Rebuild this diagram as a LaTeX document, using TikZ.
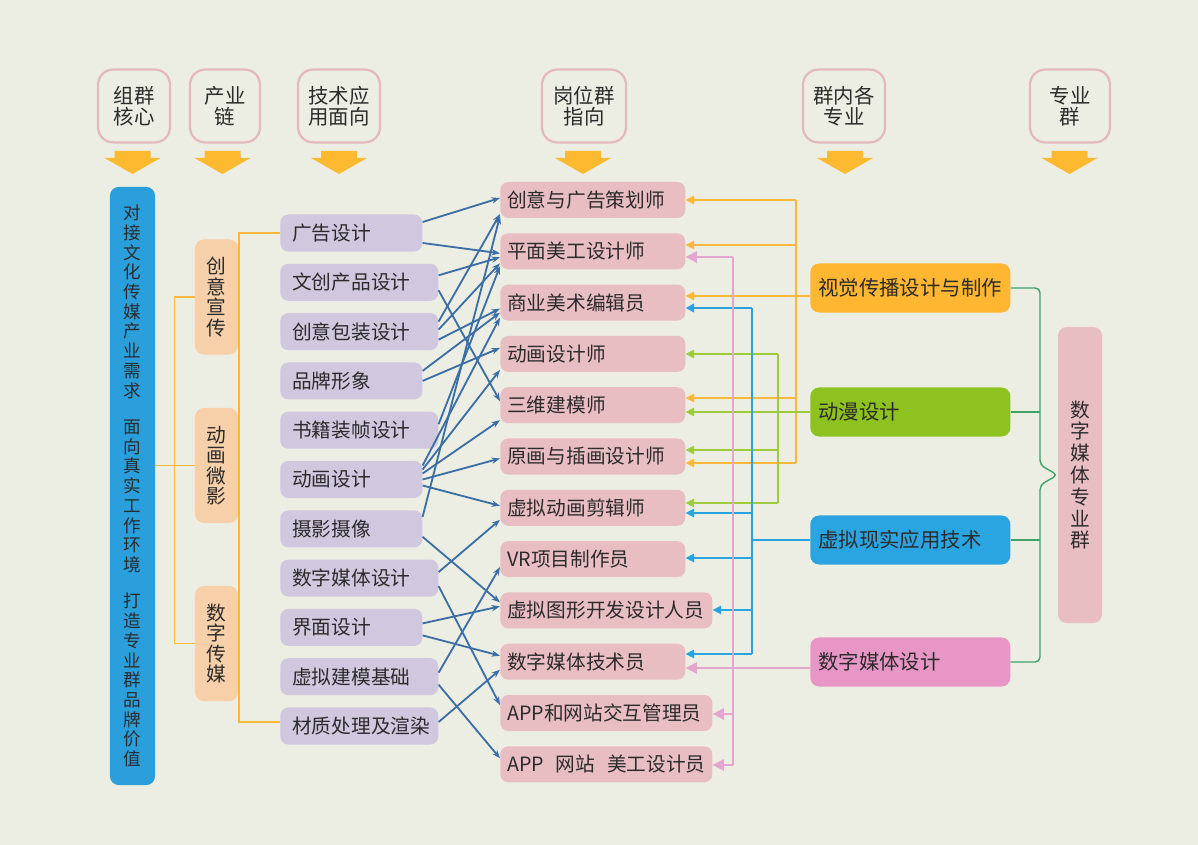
\documentclass[tikz,border=0pt]{standalone}
\usepackage{fontspec}
\setmainfont{Noto Sans CJK SC}
\usetikzlibrary{arrows.meta,calc}

\definecolor{bgc}{HTML}{EDEEE3}
\definecolor{hdrline}{HTML}{E3B9BC}
\definecolor{arrowc}{HTML}{FDB930}
\definecolor{coreblue}{HTML}{2A9FDB}
\definecolor{peach}{HTML}{F7CFA8}
\definecolor{lav}{HTML}{CFC8DF}
\definecolor{jobpink}{HTML}{E9BEC3}
\definecolor{visc}{HTML}{FFB630}
\definecolor{anic}{HTML}{8DC21F}
\definecolor{vrc}{HTML}{2BA5E1}
\definecolor{dmdc}{HTML}{E896C6}
\definecolor{linkc}{HTML}{3C6EA6}
\definecolor{bracec}{HTML}{3DA36B}
\definecolor{oline}{HTML}{FBB73A}
\definecolor{gline}{HTML}{9CCB3B}
\definecolor{bline}{HTML}{29A3E0}
\definecolor{pline}{HTML}{E4A6CF}
\definecolor{txt}{HTML}{2B2B2B}

\newcommand\boxfont{\fontsize{14}{16}\selectfont}

\tikzset{
  hdr/.style={draw=hdrline, line width=1.6pt, fill=bgc, rounded corners=0.38cm,
    minimum width=#1, minimum height=1.82cm, inner sep=0pt, align=center,
    text=txt, font=\fontsize{14.5}{15}\selectfont},
  skill/.style={anchor=west, fill=lav, rounded corners=0.2cm, text width=#1,
    inner xsep=0.3cm, inner ysep=0pt, minimum height=0.925cm, align=left,
    text=txt, font=\boxfont},
  job/.style={anchor=west, fill=jobpink, rounded corners=0.2cm, text width=#1,
    inner xsep=0.175cm, inner ysep=0pt, minimum height=0.9cm, align=left,
    text=txt, font=\boxfont},
  major/.style={anchor=west, fill=#1, rounded corners=0.22cm, text width=4.6cm,
    inner xsep=0.2cm, inner ysep=0pt, minimum height=1.225cm, align=left,
    text=txt, font=\fontsize{14.5}{16}\selectfont},
  vbox/.style={fill=#1, rounded corners=0.22cm, inner sep=0pt, align=center,
    text=txt},
  chl/.style={draw=oline, line width=1pt},
  link/.style={draw=linkc, line width=1.3pt, -{Stealth[length=6pt,width=4.5pt]}},
  oln/.style={draw=oline, line width=0.9pt},
  gln/.style={draw=gline, line width=0.9pt},
  bln/.style={draw=bline, line width=1pt},
  pln/.style={draw=pline, line width=1.4pt},
  tip/.style={-{Triangle[length=6pt,width=6pt]}},
  brc/.style={draw=bracec, line width=1pt},
}

\begin{document}
\begin{tikzpicture}[x=0.025cm, y=-0.025cm]
\useasboundingbox (0,0) rectangle (1198,845);
\fill [bgc] (0,0) rectangle (1198,845);

% headers
\node [hdr=1.8cm]  (h1) at (134,106)  {组群\\核心};
\node [hdr=1.75cm] (h2) at (225,106)  {产业\\链};
\node [hdr=2.05cm] (h3) at (339,106)  {技术应\\用面向};
\node [hdr=2.1cm]  (h4) at (584,106)  {岗位群\\指向};
\node [hdr=2.05cm] (h5) at (844,106)  {群内各\\专业};
\node [hdr=2.0cm]  (h6) at (1070,106) {专业\\群};
\foreach \x in {132.5,222.5,339,583,845,1069.5}
  \fill [arrowc] (\x-18,151) -- (\x+18,151) -- (\x+18,158) -- (\x+28,158)
                 -- (\x,174) -- (\x-28,158) -- (\x-18,158) -- cycle;

% core and industry chain
\node [vbox=coreblue, minimum width=1.125cm, minimum height=14.95cm,
       font=\fontsize{12.5}{14}\selectfont] (core) at (132.5,486)
  {对\\接\\文\\化\\传\\媒\\产\\业\\需\\求\\[12pt]面\\向\\真\\实\\工\\作\\环\\境\\[12pt]打\\造\\专\\业\\群\\品\\牌\\价\\值};
\node [vbox=peach, minimum width=1.075cm, minimum height=2.875cm,
       font=\fontsize{14}{14.5}\selectfont] (c1) at (216.5,297)   {创\\意\\宣\\传};
\node [vbox=peach, minimum width=1.075cm, minimum height=2.875cm,
       font=\fontsize{14}{14.5}\selectfont] (c2) at (216.5,465.5) {动\\画\\微\\影};
\node [vbox=peach, minimum width=1.075cm, minimum height=2.875cm,
       font=\fontsize{14}{14.5}\selectfont] (c3) at (216.5,643.5) {数\\字\\传\\媒};

% skills
\node [skill=2.95cm] (s1)  at (280,233)   {广告设计};
\node [skill=3.35cm] (s2)  at (280,282.3) {文创产品设计};
\node [skill=3.35cm] (s3)  at (280,331.6) {创意包装设计};
\node [skill=2.95cm] (s4)  at (280,380.9) {品牌形象};
\node [skill=3.35cm] (s5)  at (280,430.2) {书籍装帧设计};
\node [skill=2.95cm] (s6)  at (280,479.5) {动画设计};
\node [skill=2.95cm] (s7)  at (280,528.8) {摄影摄像};
\node [skill=3.35cm] (s8)  at (280,578.1) {数字媒体设计};
\node [skill=2.95cm] (s9)  at (280,627.4) {界面设计};
\node [skill=3.35cm] (s10) at (280,676.7) {虚拟建模基础};
\node [skill=3.35cm] (s11) at (280,726)   {材质处理及渲染};

% jobs
\node [job=4.275cm] (j1)  at (500,200)   {创意与广告策划师};
\node [job=4.275cm] (j2)  at (500,251.3) {平面美工设计师};
\node [job=4.275cm] (j3)  at (500,302.6) {商业美术编辑员};
\node [job=4.275cm] (j4)  at (500,353.9) {动画设计师};
\node [job=4.275cm] (j5)  at (500,405.2) {三维建模师};
\node [job=4.275cm] (j6)  at (500,456.5) {原画与插画设计师};
\node [job=4.275cm] (j7)  at (500,507.8) {虚拟动画剪辑师};
\node [job=4.275cm] (j8)  at (500,559.1) {VR项目制作员};
\node [job=4.95cm]  (j9)  at (500,610.4) {虚拟图形开发设计人员};
\node [job=4.275cm] (j10) at (500,661.7) {数字媒体技术员};
\node [job=4.95cm]  (j11) at (500,713)   {APP和网站交互管理员};
\node [job=4.95cm]  (j12) at (500,764.3) {\mbox{APP\hspace{0.6em}网站\hspace{0.6em}美工设计员}};

% majors and group
\node [major=visc] (vis) at (810,288) {视觉传播设计与制作};
\node [major=anic] (ani) at (810,412) {动漫设计};
\node [major=vrc]  (vr)  at (810,540) {虚拟现实应用技术};
\node [major=dmdc] (dmd) at (810,662) {数字媒体设计};
\node [vbox=jobpink, minimum width=1.1cm, minimum height=7.4cm,
       font=\fontsize{14}{15.5}\selectfont] (grp) at (1080,475) {数\\字\\媒\\体\\专\\业\\群};

% left orange lines
\draw [chl] (core.east |- c2.west) -- (c2.west);
\draw [chl] (c1.west) -- ++(-20,0) |- (c3.west);
\draw [chl] (s1.west) -- ++(-41,0) |- ($(s11.west)+(0,-4)$);

% skills to jobs
\foreach \a/\da/\b/\db in {s1/-11/j1/-2, s1/10/j2/2, s2/-7/j2/6, s2/8/j5/-4,
    s3/-10/j1/14, s3/-2/j2/12, s3/8/j3/6, s4/-10/j3/10, s4/0/j4/-6,
    s5/-6/j2/15, s6/-14/j3/15, s6/-10/j4/16, s6/-6/j5/15, s6/0/j6/2,
    s6/6/j7/-2, s7/-12/j1/16, s7/8/j9/-8, s8/-6/j7/12, s8/8/j11/-8,
    s9/-4/j9/-4, s9/8/j10/-6, s10/-4/j8/8, s10/8/j12/-6, s11/-4/j10/8}
  \draw [link] ($(\a.east)+(0,\da)$) -- ($(\b.west)+(0,\db)$);

% orange: visual communication
\coordinate (o1) at (796,200);
\coordinate (o2) at (796,245);
\coordinate (o5) at (796,398);
\coordinate (o6) at (796,463);
\draw [oln] (o1) -- (o6);
\foreach \c/\j in {o1/j1, o2/j2, o5/j5, o6/j6}
  \draw [oln, tip] (\c) -- (\j.east |- \c);
\draw [oln, tip] ($(vis.west)+(0,8)$) -- ($(j3.east)+(0,-6.6)$);

% green: animation
\coordinate (g4) at (778,354);
\coordinate (g6) at (778,450);
\coordinate (g7) at (778,503);
\draw [gln] (g4) -- (g7);
\foreach \c/\j in {g4/j4, g6/j6, g7/j7}
  \draw [gln, tip] (\c) -- (\j.east |- \c);
\draw [gln, tip] (ani.west) -- (j5.east |- ani.west);

% blue: virtual reality
\coordinate (b3) at (752,308);
\coordinate (b7) at (752,513);
\coordinate (b8) at (752,558);
\coordinate (b9) at (752,610);
\coordinate (b10) at (752,654);
\draw [bln] (b3) -- (b10);
\draw [bln] (vr.west) -- (vr.west -| b3);
\draw [bln, line width=2pt, tip] (b3) -- (j3.east |- b3);
\foreach \c/\j in {b7/j7, b8/j8, b9/j9, b10/j10}
  \draw [bln, tip] (\c) -- (\j.east |- \c);

% pink: digital media design
\coordinate (p2) at (733,257);
\coordinate (p11) at (733,714);
\coordinate (p12) at (733,765);
\draw [pln, line width=2pt] (p2) -- (p12);
\foreach \c/\j in {p2/j2, p11/j11, p12/j12}
  \draw [pln, -{Triangle[length=8pt,width=8pt]}] (\c) -- (\j.east |- \c);
\draw [pln, -{Triangle[length=8pt,width=8pt]}] ($(dmd.west)+(0,6)$) -- (j10.east |- 0,668);

% brace
\coordinate (bx) at (1040,0);
\draw [brc, rounded corners=0.12cm] (vis.east) -| (1040,465) -- (grp.west) -- (1040,485) |- (dmd.east);
\draw [brc] (ani.east) -- (ani.east -| bx);
\draw [brc] (vr.east) -- (vr.east -| bx);
\end{tikzpicture}
\end{document}
